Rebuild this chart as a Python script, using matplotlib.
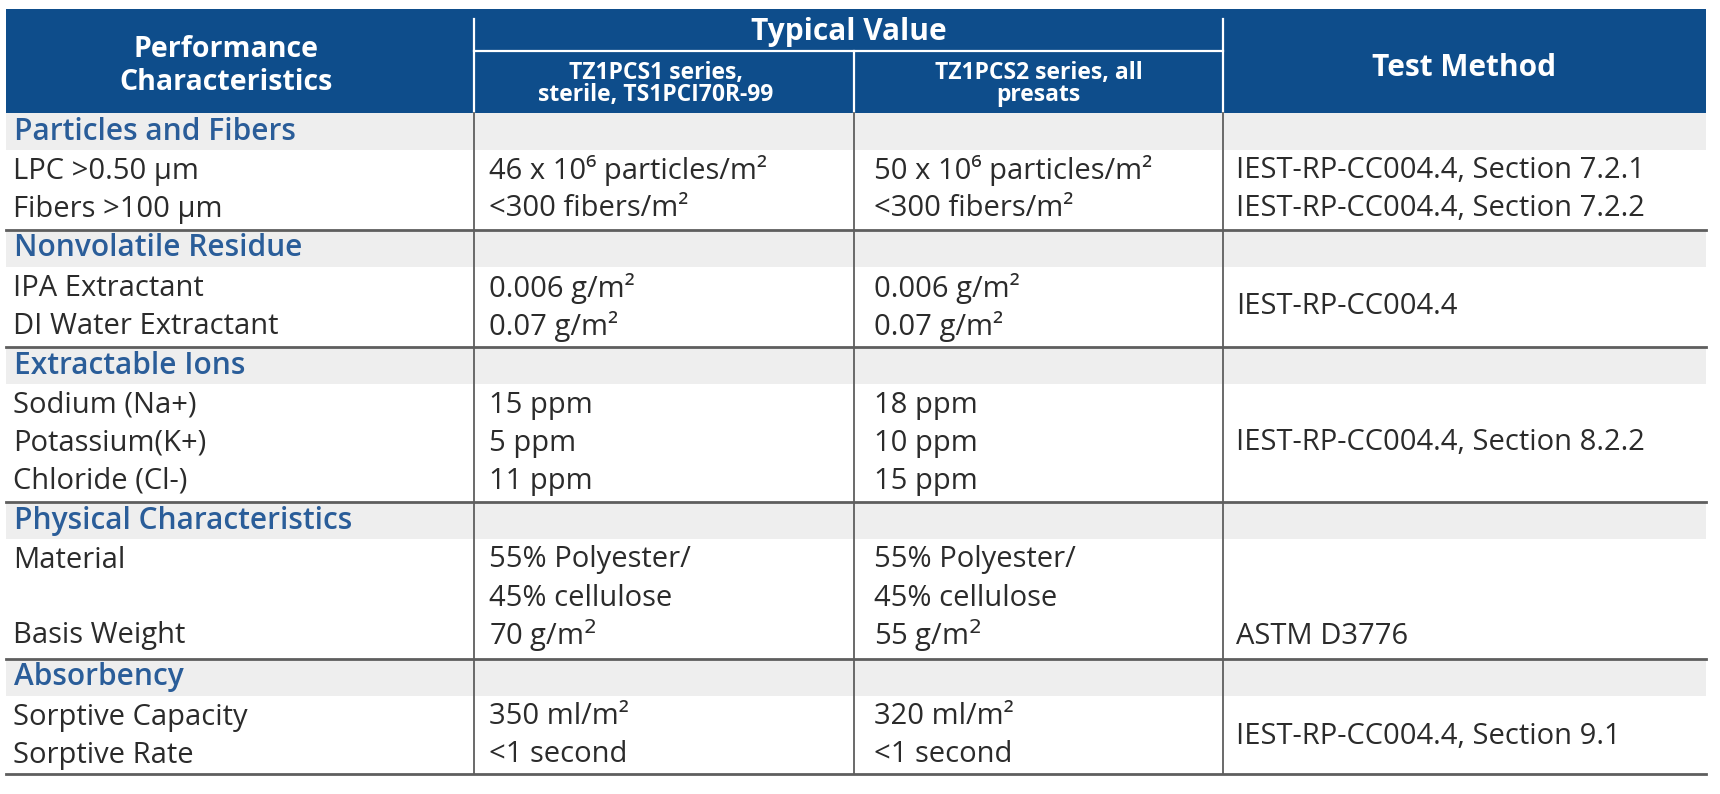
import matplotlib
matplotlib.use('Agg')
import matplotlib.pyplot as plt
from matplotlib.patches import Rectangle

plt.rcParams['font.family'] = ['Open Sans', 'DejaVu Sans']

# table content
col_headers = ['Performance\nCharacteristics', 'Typical Value', 'Test Method']
sub_headers = ['TZ1PCS1 series,\nsterile, TS1PCI70R-99', 'TZ1PCS2 series, all\npresats']

sections = ['Particles and Fibers', 'Nonvolatile Residue', 'Extractable Ions',
            'Physical Characteristics', 'Absorbency']
section_sizes = [2, 2, 3, 3, 2]

characteristics = ['LPC >0.50 µm', 'Fibers >100 µm',
                   'IPA Extractant', 'DI Water Extractant',
                   'Sodium (Na+)', 'Potassium(K+)', 'Chloride (Cl-)',
                   'Material', '', 'Basis Weight',
                   'Sorptive Capacity', 'Sorptive Rate']
values_tz1 = ['46 x 10⁶ particles/m²', '<300 fibers/m²',
              '0.006 g/m²', '0.07 g/m²',
              '15 ppm', '5 ppm', '11 ppm',
              '55% Polyester/', '45% cellulose', r'70 g/m$^2$',
              '350 ml/m²', '<1 second']
values_tz2 = ['50 x 10⁶ particles/m²', '<300 fibers/m²',
              '0.006 g/m²', '0.07 g/m²',
              '18 ppm', '10 ppm', '15 ppm',
              '55% Polyester/', '45% cellulose', r'55 g/m$^2$',
              '320 ml/m²', '<1 second']
methods = ['IEST-RP-CC004.4, Section 7.2.1', 'IEST-RP-CC004.4, Section 7.2.2',
           'IEST-RP-CC004.4', 'IEST-RP-CC004.4, Section 8.2.2',
           'ASTM D3776', 'IEST-RP-CC004.4, Section 9.1']
method_rows = [(0, 0), (1, 1), (2, 3), (4, 6), (9, 9), (10, 11)]

W, H = 1720, 794
fig = plt.figure(figsize=(W / 100, H / 100), dpi=100)
ax = fig.add_axes([0, 0, 1, 1])
ax.set_xlim(0, W)
ax.set_ylim(H, 0)
ax.axis('off')

header_blue = '#0e4d8b'
section_blue = '#2a5d99'
text_col = '#2b2b2b'
band_grey = '#eeeeee'
rule_grey = '#5e5e5e'

body_fs = 21
x0, x1, x2, x3, x4 = 6, 474, 854, 1223, 1706
head_top, head_bot = 9, 113
band_h, first_off, line_gap = 37, 21, 38
trails = [21, 21, 21, 23, 19]

# header block
ax.add_patch(Rectangle((x0, head_top), x4 - x0, head_bot - head_top, color=header_blue, lw=0))
ax.plot([x1, x1], [19, head_bot], color='white', lw=1.6)
ax.plot([x3, x3], [19, head_bot], color='white', lw=1.6)
ax.plot([x1, x3], [51, 51], color='white', lw=1.6)
ax.plot([x2, x2], [51, head_bot], color='white', lw=1.6)

ax.text(226, 66, col_headers[0], color='white', fontsize=20.5, fontweight='bold',
        ha='center', va='center', linespacing=1.15)
ax.text((x1 + x3) / 2, 32, col_headers[1], color='white', fontsize=21.5, fontweight='bold',
        ha='center', va='center')
ax.text((x3 + x4) / 2, 68, col_headers[2], color='white', fontsize=21.5, fontweight='bold',
        ha='center', va='center')
ax.text((x1 + x2) / 2 - 8, 84, sub_headers[0], color='white', fontsize=16.5, fontweight='bold',
        ha='center', va='center', linespacing=0.86)
ax.text((x2 + x3) / 2, 84, sub_headers[1], color='white', fontsize=16.5, fontweight='bold',
        ha='center', va='center', linespacing=0.86)

# body
line_y = []
y = head_bot
for s, (name, n) in enumerate(zip(sections, section_sizes)):
    if s > 0:
        ax.plot([x0, x4], [y, y], color=rule_grey, lw=2, zorder=3)
    ax.add_patch(Rectangle((x0, y), x4 - x0, band_h, color=band_grey, lw=0))
    ax.text(x0 + 8, y + band_h / 2, name, color=section_blue, fontsize=21.5,
            fontweight='semibold', ha='left', va='center')
    ly = y + band_h + first_off
    for k in range(n):
        line_y.append(ly + k * line_gap)
    y = line_y[-1] + trails[s]
bottom = y
ax.plot([x0, x4], [bottom, bottom], color=rule_grey, lw=2, zorder=3)

for xv in (x1, x2, x3):
    ax.plot([xv, xv], [head_bot, bottom], color=rule_grey, lw=1.3, zorder=3)

for yy, c, v1, v2 in zip(line_y, characteristics, values_tz1, values_tz2):
    ax.text(x0 + 7, yy, c, color=text_col, fontsize=body_fs, ha='left', va='center')
    ax.text(x1 + 15, yy, v1, color=text_col, fontsize=body_fs, ha='left', va='center')
    ax.text(x2 + 20, yy, v2, color=text_col, fontsize=body_fs, ha='left', va='center')

for m, (a, b) in zip(methods, method_rows):
    ax.text(x3 + 13, (line_y[a] + line_y[b]) / 2, m, color=text_col, fontsize=body_fs,
            ha='left', va='center')

fig.savefig('out.png', dpi=100, facecolor='white')
